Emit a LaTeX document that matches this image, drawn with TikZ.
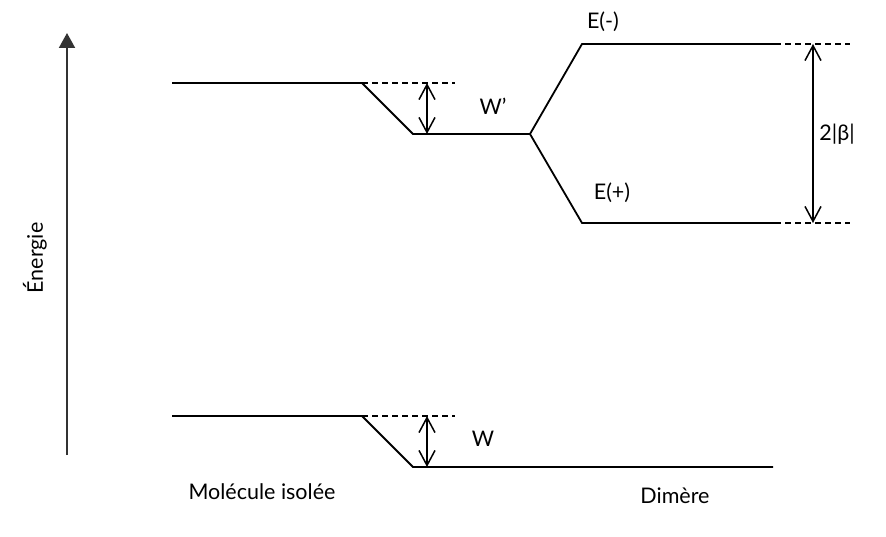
\documentclass[tikz,border=0pt]{standalone}
\usepackage{fontspec}
\setmainfont{Lato}
\usetikzlibrary{arrows.meta}

\begin{document}
\begin{tikzpicture}[x=1pt,y=-1pt,
	niveau/.style={line width=1.8pt},
	pointille/.style={line width=1.4pt,dash pattern=on 6pt off 4pt},
	ecart/.style={line width=1.5pt,{Straight Barb[length=15pt,width=16pt]}-{Straight Barb[length=15pt,width=16pt]}},
	etiq/.style={font=\fontsize{21.5}{24}\selectfont}]
\useasboundingbox (0,0) rectangle (886,537);
\begin{scope}
	% axe
	\coordinate (axe0) at (67,455);
	\coordinate (axe1) at (67,33);
	\draw[line width=2pt,draw=black!80,-{Triangle[length=15pt,width=16pt]}] (axe0)--(axe1);
	\node[etiq,rotate=90] (energie) at (35,258) {Énergie};
	% niveau haut
	\coordinate (mh1) at (172,83);
	\coordinate (mh2) at (362,83);
	\coordinate (dh0) at (413,134);
	\coordinate (dh1) at (530,134);
	\coordinate (em0) at (582,44);
	\coordinate (em1) at (775,44);
	\coordinate (ep0) at (582,223);
	\coordinate (ep1) at (775,223);
	\draw[niveau] (mh1)--(mh2)--(dh0)--(dh1)--(em0)--(em1);
	\draw[niveau] (dh1)--(ep0)--(ep1);
	\draw[pointille] (mh2)--(455,83);
	\draw[pointille] (em1)--(850,44);
	\draw[pointille] (ep1)--(850,223);
	\draw[ecart] (427,83)--(427,134);
	\draw[ecart] (813,44)--(813,223);
	\node[etiq] (wp) at (493,106) {W’};
	\node[etiq] (emoins) at (603,22) {E(-)};
	\node[etiq] (eplus) at (612,193) {E(+)};
	\node[etiq] (beta) at (837,134) {2|β|};
	% niveau bas
	\coordinate (mb1) at (172,416);
	\coordinate (mb2) at (362,416);
	\coordinate (db0) at (413,467);
	\coordinate (db1) at (773,467);
	\draw[niveau] (mb1)--(mb2)--(db0)--(db1);
	\draw[pointille] (mb2)--(455,416);
	\draw[ecart] (427,416)--(427,467);
	\node[etiq] (w) at (483,439) {W};
	% legendes
	\node[etiq] (molecule) at (262,492) {Molécule isolée};
	\node[etiq] (dimere) at (675,496) {Dimère};
\end{scope}
\end{tikzpicture}
\end{document}
